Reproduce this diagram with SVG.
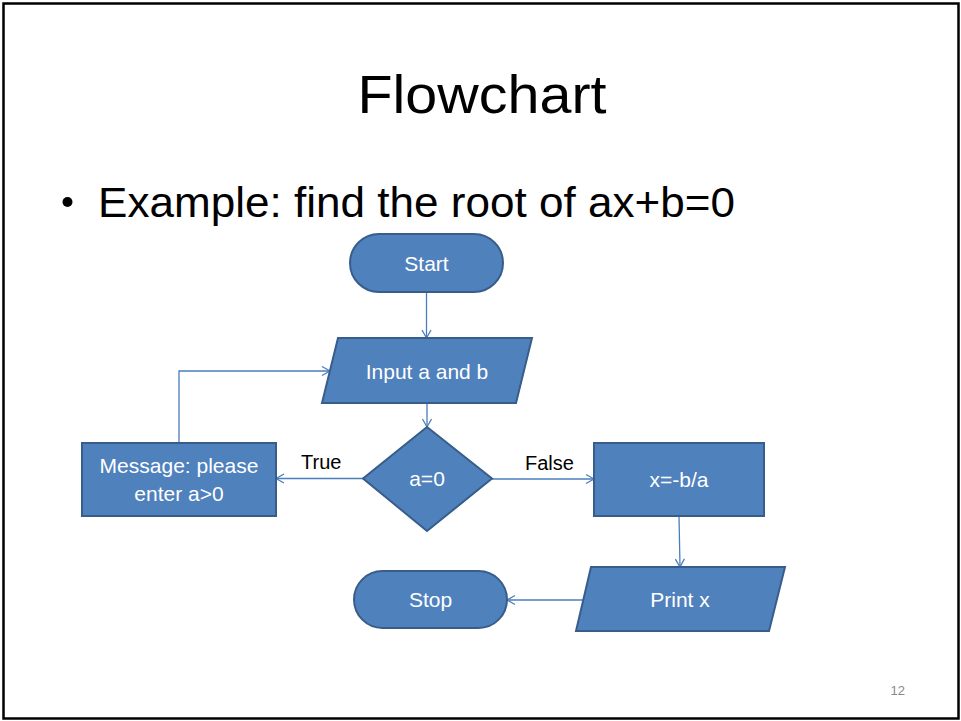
<svg xmlns="http://www.w3.org/2000/svg" width="961" height="721" viewBox="0 0 961 721">
<defs>
<style>
.shape{fill:#4F81BD;stroke:#385D8A;stroke-width:2}
.conn{fill:none;stroke:#4A7EBB;stroke-width:1.3}
.nt{font-family:"Liberation Sans",Arial,sans-serif;font-size:21px;fill:#FFFFFF;text-anchor:middle}
.lbl{font-family:"Liberation Sans",Arial,sans-serif;font-size:20px;fill:#000000}
</style>
<marker id="arr" markerUnits="userSpaceOnUse" markerWidth="12" markerHeight="12" refX="9" refY="5" orient="auto" viewBox="0 0 12 10">
<path d="M1,0.5 L9,5 L1,9.5" fill="none" stroke="#4A7EBB" stroke-width="1.3"/>
</marker>
</defs>
<rect x="0" y="0" width="961" height="721" fill="#FFFFFF"/>
<rect x="3.5" y="3.5" width="955" height="715" fill="none" stroke="#000000" stroke-width="2.5"/>
<text x="482" y="113" font-family="'Liberation Sans',Arial,sans-serif" font-size="53" fill="#000000" text-anchor="middle" textLength="249" lengthAdjust="spacingAndGlyphs">Flowchart</text>
<circle cx="67.5" cy="202" r="5" fill="#000000"/>
<text x="98" y="217" font-family="'Liberation Sans',Arial,sans-serif" font-size="42" fill="#000000" textLength="637" lengthAdjust="spacingAndGlyphs">Example: find the root of ax+b=0</text>
<text x="905" y="695" font-family="'Liberation Sans',Arial,sans-serif" font-size="13" fill="#898989" text-anchor="end">12</text>

<g id="connectors">
<line class="conn" x1="426.5" y1="292" x2="426.5" y2="338" marker-end="url(#arr)"/>
<line class="conn" x1="427" y1="403" x2="427" y2="427" marker-end="url(#arr)"/>
<line class="conn" x1="363" y1="478.5" x2="276" y2="478.5" marker-end="url(#arr)"/>
<line class="conn" x1="492" y1="479" x2="594" y2="479" marker-end="url(#arr)"/>
<polyline class="conn" points="179,443 179,371 330,371" marker-end="url(#arr)"/>
<line class="conn" x1="679" y1="516" x2="680" y2="567" marker-end="url(#arr)"/>
<line class="conn" x1="583" y1="600" x2="507" y2="600" marker-end="url(#arr)"/>
<text class="lbl" x="301" y="469">True</text>
<text class="lbl" x="525" y="470">False</text>
</g>

<g id="start">
<rect class="shape" x="350" y="234" width="153" height="58" rx="29" ry="29"/>
<text class="nt" x="426.5" y="271">Start</text>
</g>
<g id="input">
<polygon class="shape" points="338,338 532,338 516,403 322,403"/>
<text class="nt" x="427" y="379">Input a and b</text>
</g>
<g id="decision">
<polygon class="shape" points="427,427 492,478.5 427,531 363,478.5"/>
<text class="nt" x="427" y="486">a=0</text>
</g>
<g id="message">
<rect class="shape" x="82" y="443" width="194" height="73"/>
<text class="nt" x="179" y="473">Message: please</text>
<text class="nt" x="179" y="501">enter a&gt;0</text>
</g>
<g id="compute">
<rect class="shape" x="594" y="443" width="170" height="73"/>
<text class="nt" x="679" y="487">x=-b/a</text>
</g>
<g id="print">
<polygon class="shape" points="591,567 785,567 769,631 576,631"/>
<text class="nt" x="680" y="607">Print x</text>
</g>
<g id="stop">
<rect class="shape" x="354" y="571" width="153" height="57" rx="28.5" ry="28.5"/>
<text class="nt" x="430.5" y="607">Stop</text>
</g>
</svg>
